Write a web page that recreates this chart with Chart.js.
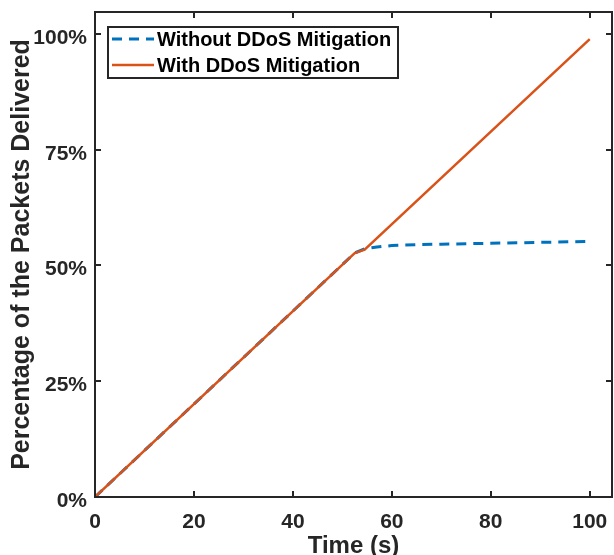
<!DOCTYPE html>
<html>
<head>
<meta charset="utf-8">
<script src="https://cdn.jsdelivr.net/npm/chart.js@4.4.1/dist/chart.umd.min.js"></script>
<style>
  html, body { margin: 0; padding: 0; background: #fff; }
  #wrap { width: 614px; height: 555px; }
</style>
</head>
<body>
<div id="wrap"><canvas id="chart" width="614" height="555"></canvas></div>
<script>
// data
const withoutTime = [0, 52.5, 54.5, 57, 60, 65, 70, 80, 90, 100];
const withoutValues = [0, 52.7, 53.6, 54.0, 54.3, 54.5, 54.6, 54.8, 55.0, 55.2];
const withTime = [0, 52.5, 54.5, 100];
const withValues = [0, 52.7, 53.4, 98.9];
const xTicks = [0, 20, 40, 60, 80, 100];
const yTicks = [0, 25, 50, 75, 100];
const seriesNames = ["Without DDoS Mitigation", "With DDoS Mitigation"];

const FONT = "'Liberation Sans', Arial, sans-serif";
const AXIS_COLOR = "#262626";

function toPoints(xs, ys) {
  return xs.map((x, i) => ({ x: x, y: ys[i] }));
}

// box + inward ticks on all four sides, like the original plot
const boxPlugin = {
  id: "box",
  afterDatasetsDraw(chart) {
    const { ctx, chartArea, scales } = chart;
    const { left, right, top, bottom } = chartArea;
    const len = 6;
    ctx.save();
    ctx.strokeStyle = AXIS_COLOR;
    ctx.lineWidth = 2;
    ctx.beginPath();
    scales.x.ticks.forEach((t) => {
      const px = Math.round(scales.x.getPixelForValue(t.value));
      ctx.moveTo(px, bottom);
      ctx.lineTo(px, bottom - len);
      ctx.moveTo(px, top);
      ctx.lineTo(px, top + len);
    });
    scales.y.ticks.forEach((t) => {
      const py = Math.round(scales.y.getPixelForValue(t.value));
      ctx.moveTo(left, py);
      ctx.lineTo(left + len, py);
      ctx.moveTo(right, py);
      ctx.lineTo(right - len, py);
    });
    ctx.stroke();
    ctx.strokeRect(left, top, right - left, bottom - top);
    ctx.restore();
  },
};

// legend box in the upper left corner of the plot
const legendPlugin = {
  id: "insideLegend",
  afterDraw(chart) {
    const { ctx } = chart;
    const x0 = 108, y0 = 27, w = 290, h = 51;
    ctx.save();
    ctx.fillStyle = "#fff";
    ctx.fillRect(x0, y0, w, h);
    ctx.strokeStyle = AXIS_COLOR;
    ctx.lineWidth = 2;
    ctx.strokeRect(x0, y0, w, h);
    ctx.font = "bold 20px " + FONT;
    ctx.textBaseline = "middle";
    seriesNames.forEach((name, i) => {
      const ds = chart.data.datasets.find((d) => d.label === name);
      const y = y0 + 12 + i * 26;
      ctx.strokeStyle = ds.borderColor;
      ctx.lineWidth = ds.borderWidth;
      ctx.setLineDash(ds.borderDash || []);
      ctx.beginPath();
      ctx.moveTo(x0 + 4, y);
      ctx.lineTo(x0 + 46, y);
      ctx.stroke();
      ctx.setLineDash([]);
      ctx.fillStyle = "#000";
      ctx.fillText(name, x0 + 49, y + 1);
    });
    ctx.restore();
  },
};

new Chart(document.getElementById("chart"), {
  type: "line",
  data: {
    datasets: [
      {
        label: seriesNames[0],
        data: toPoints(withoutTime, withoutValues),
        borderColor: "#0072BD",
        borderWidth: 3,
        borderDash: [10, 7],
        pointRadius: 0,
        tension: 0,
        order: 2,
      },
      {
        label: seriesNames[1],
        data: toPoints(withTime, withValues),
        borderColor: "#D95319",
        borderWidth: 2.5,
        pointRadius: 0,
        tension: 0,
        order: 1,
      },
    ],
  },
  options: {
    responsive: false,
    animation: false,
    layout: { padding: { top: 12, right: 2, left: 0, bottom: 0 } },
    plugins: {
      legend: { display: false },
      tooltip: { enabled: false },
    },
    scales: {
      x: {
        type: "linear",
        min: 0,
        max: 104.5,
        afterBuildTicks: (scale) => {
          scale.ticks = xTicks.map((v) => ({ value: v }));
        },
        afterFit: (scale) => {
          scale.height = 58;
          scale.paddingLeft = 0;
          scale.paddingRight = 0;
        },
        grid: { display: false, drawTicks: false },
        border: { display: false },
        ticks: {
          padding: 13,
          color: AXIS_COLOR,
          font: { family: FONT, size: 21, weight: "bold" },
          maxRotation: 0,
        },
        title: {
          display: true,
          text: "Time (s)",
          color: AXIS_COLOR,
          padding: { top: 0, bottom: -6 },
          font: { family: FONT, size: 24, weight: "bold" },
        },
      },
      y: {
        type: "linear",
        min: 0,
        max: 104.75,
        afterBuildTicks: (scale) => {
          scale.ticks = yTicks.map((v) => ({ value: v }));
        },
        afterFit: (scale) => {
          scale.width = 95;
          scale.paddingTop = 0;
          scale.paddingBottom = 0;
        },
        grid: { display: false, drawTicks: false },
        border: { display: false },
        ticks: {
          padding: 8,
          labelOffset: 4,
          color: AXIS_COLOR,
          font: { family: FONT, size: 21, weight: "bold" },
          callback: (v) => v + "%",
        },
        title: {
          display: true,
          text: "Percentage of the Packets Delivered",
          color: AXIS_COLOR,
          padding: { top: 7, bottom: 0 },
          font: { family: FONT, size: 25, weight: "bold" },
        },
      },
    },
  },
  plugins: [boxPlugin, legendPlugin],
});
</script>
</body>
</html>
